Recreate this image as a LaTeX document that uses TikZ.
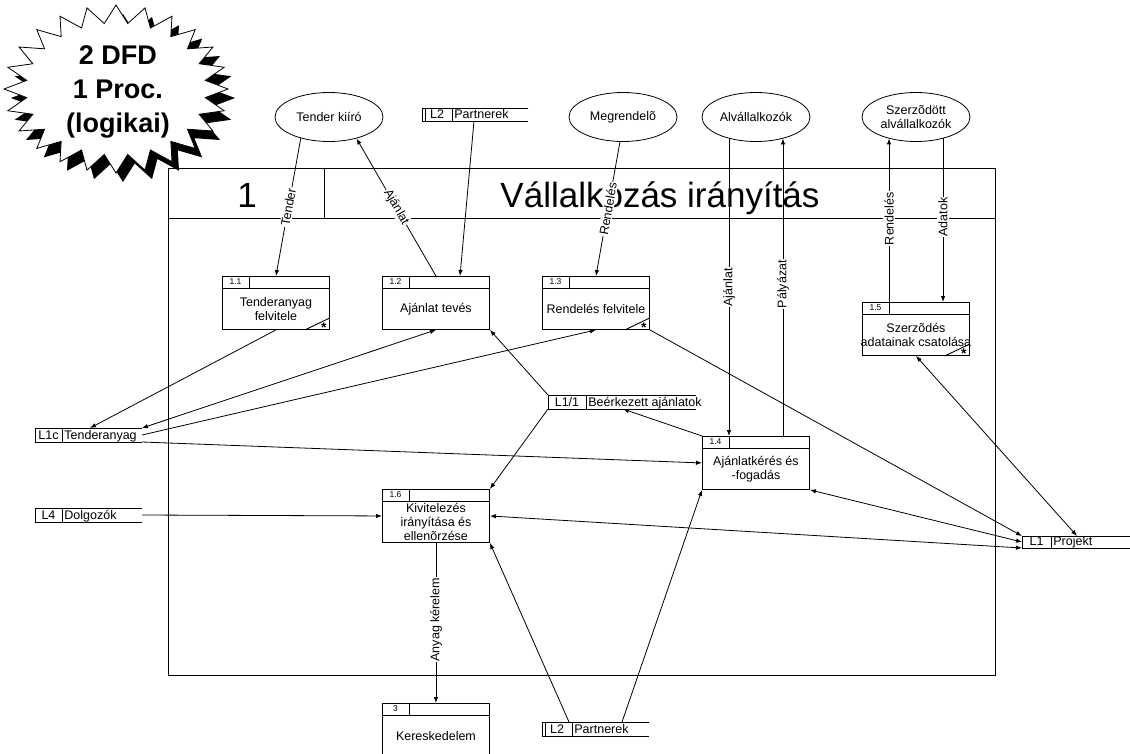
\documentclass[tikz,border=0pt]{standalone}
\usepackage{fontspec}
\setmainfont{Liberation Sans}
\usetikzlibrary{arrows.meta,shapes.geometric}

% process box: number cell on top, title below
\newcommand\dfdproc[4]{% name, top-left corner, number, title
  \node[procbox] (#1) at #2 {};
  \draw[procline] ([yshift=-12pt]#1.north west) -- ([yshift=-12pt]#1.north east);
  \draw[procline] ([xshift=27pt]#1.north west) -- ([xshift=27pt,yshift=-12pt]#1.north west);
  \node[idtxt] at ([xshift=13.5pt,yshift=-6pt]#1.north west) {#3};
  \node[txt] at ([yshift=-6pt]#1.center) {#4};
}
% corner mark of a process box
\newcommand\dfdmark[1]{%
  \draw[procline] ([xshift=-25pt]#1.south east) -- ([yshift=12pt]#1.south east);
  \node[marktxt, anchor=base] at ([xshift=-6pt,yshift=-3pt]#1.south east) {*};
}
% data store: open on the right
\newcommand\dfdstore[7]{% name, top-left corner, width, height, id-cell width, number, title
  \node[storebox, minimum width=#3, minimum height=#4] (#1) at #2 {};
  \draw[storeline] (#1.north east) -- (#1.north west) -- (#1.south west) -- (#1.south east);
  \draw[storeline] ([xshift=#5]#1.north west) -- ([xshift=#5]#1.south west);
  \node[txt, anchor=base] at ([xshift=#5/2,yshift=2.5]#1.south west) {#6};
  \node[txt, anchor=base west] at ([xshift=#5+2,yshift=2.5]#1.south west) {#7};
}

\begin{document}
\begin{tikzpicture}[x=1pt,y=-1pt,
  line width=0.8pt,
  >={Latex[length=6pt,width=4.5pt]},
  txt/.style={font=\fontsize{12.5}{14}\selectfont, align=center, inner sep=0pt},
  idtxt/.style={font=\fontsize{8.5}{9}\selectfont, inner sep=0pt},
  marktxt/.style={font=\bfseries\fontsize{14}{14}\selectfont, inner sep=0pt},
  procbox/.style={draw, rectangle, fill=white, minimum width=107pt, minimum height=53pt,
    anchor=north west, inner sep=0pt, line width=0.9pt},
  procline/.style={line width=0.9pt},
  storebox/.style={rectangle, anchor=north west, inner sep=0pt, outer sep=0pt},
  storeline/.style={line width=0.9pt},
  ext/.style={draw, ellipse, fill=white, minimum width=108pt, minimum height=49pt,
    inner sep=0pt, txt},
  lbl/.style={txt, fill=white, inner sep=1pt},
  flow/.style={->},
  biflow/.style={<->}
]
\useasboundingbox (0,0) rectangle (1130,753);

% process frame with header
\draw[line width=1pt] (168,168) rectangle (995,675);
\draw[line width=1pt] (168,218) -- (995,218);
\draw[line width=1pt] (324,168) -- (324,218);
\node[font=\fontsize{35}{40}\selectfont, anchor=base, inner sep=0pt] (hnum) at (247,207) {1};
\node[font=\fontsize{35}{40}\selectfont, anchor=base, inner sep=0pt] (htitle) at (660,207) {Vállalkozás irányítás};

% external entities
\node[ext] (e1) at (329,117) {Tender kiíró};
\node[ext] (e2) at (623,117) {Megrendelõ};
\node[ext] (e3) at (756,117) {Alvállalkozók};
\node[ext] (e4) at (916,117) {Szerzõdött\\alvállalkozók};

% processes
\dfdproc{p11}{(222,276)}{1.1}{Tenderanyag\\felvitele}
\dfdmark{p11}
\dfdproc{p12}{(382,276)}{1.2}{Ajánlat tevés}
\dfdproc{p13}{(542,276)}{1.3}{Rendelés felvitele}
\dfdmark{p13}
\dfdproc{p15}{(862,302)}{1.5}{Szerzõdés\\adatainak csatolása}
\dfdmark{p15}
\dfdproc{p14}{(702,436)}{1.4}{Ajánlatkérés és\\-fogadás}
\dfdproc{p16}{(382,489)}{1.6}{Kivitelezés\\irányítása és\\ellenõrzése}
\dfdproc{p3}{(382,703)}{3}{Kereskedelem}

% data stores
\dfdstore{s2a}{(422,108)}{106}{13}{30}{L2}{Partnerek}
\draw[storeline] ([xshift=3pt]s2a.north west) -- ([xshift=3pt]s2a.south west);
\dfdstore{s2b}{(542,722)}{107}{14}{30}{L2}{Partnerek}
\draw[storeline] ([xshift=3pt]s2b.north west) -- ([xshift=3pt]s2b.south west);
\dfdstore{s1c}{(35,428)}{107}{14}{27}{L1c}{Tenderanyag}
\dfdstore{s4}{(35,508)}{107}{14}{27}{L4}{Dolgozók}
\dfdstore{s11}{(548,395)}{148}{14}{38}{L1/1}{Beérkezett ajánlatok}
\dfdstore{s1}{(1022,536)}{112}{12}{29}{L1}{Projekt}

% attachment points for the vertical flows
\coordinate (p14a) at ([xshift=27pt]p14.north west);
\coordinate (p14b) at ([xshift=81pt]p14.north west);
\coordinate (p15a) at ([xshift=27pt]p15.north west);
\coordinate (p15b) at ([xshift=81pt]p15.north west);

% data flows
\draw[flow] (e1.-143) -- node[lbl, sloped] {Tender} (p11.north);
\draw[flow] (p12.north) -- node[lbl, sloped] {Ajánlat} (e1.-38);
\draw[flow] ([xshift=52pt]s2a.south west) -- ([xshift=78pt]p12.north west);
\draw[flow] (e2.-97) -- node[lbl, sloped] {Rendelés} (p13.north);
\draw[flow] (p14a |- e3.-142) -- node[lbl, rotate=90, pos=0.5] {Ajánlat} (p14a);
\draw[flow] (p14b) -- node[lbl, rotate=90, pos=0.51] {Pályázat} (p14b |- e3.-38);
\draw[flow] (p15a) -- node[lbl, rotate=90, pos=0.51] {Rendelés} (p15a |- e4.-142);
\draw[flow] (p15b |- e4.-38) -- node[lbl, rotate=90, pos=0.48] {Adatok} (p15b);

\draw[flow] (p11.south) -- ([xshift=55pt]s1c.north west);
\draw[biflow] (s1c.north east) -- (p12.south);
\draw[flow] (s1c.east) -- (p13.south);
\draw[flow] (s1c.south east) -- (p14.west);

\draw[flow] (p13.south east) -- (s1.north west);
\draw[biflow] (p15.south) -- ([xshift=55pt]s1.north west);
\draw[biflow] (p14.south east) -- (s1.west);
\draw[biflow] (p16.east) -- (s1.south west);

\draw[flow] (p14.north west) -- ([xshift=75pt]s11.south west);
\draw[flow] (s11.north west) -- (p12.south east);
\draw[flow] (s11.south west) -- (p16.north east);

\draw[flow] (s4.east) -- (p16.west);
\draw[flow] (p16.south) -- node[lbl, rotate=90, pos=0.48] {Anyag kérelem} (p3.north);
\draw[flow] ([xshift=27pt]s2b.north west) -- (p16.south east);
\draw[flow] ([xshift=80pt]s2b.north west) -- (p14.south west);

% starburst title with drop shadow
\fill[black, shift={(7,9)}] (228,89)
  \foreach \k in {1,...,47} {-- ({116+(isodd(\k)?90:112)*cos(7.5*\k)},{89+(isodd(\k)?66:84)*sin(7.5*\k)})} -- cycle;
\filldraw[fill=white, draw=black, line width=0.8pt] (228,89)
  \foreach \k in {1,...,47} {-- ({116+(isodd(\k)?90:112)*cos(7.5*\k)},{89+(isodd(\k)?66:84)*sin(7.5*\k)})} -- cycle;
\node[font=\bfseries\fontsize{27}{34}\selectfont, align=center, inner sep=0pt] (burst) at (118,92)
  {2 DFD\\1 Proc.\\(logikai)};
\end{tikzpicture}
\end{document}
